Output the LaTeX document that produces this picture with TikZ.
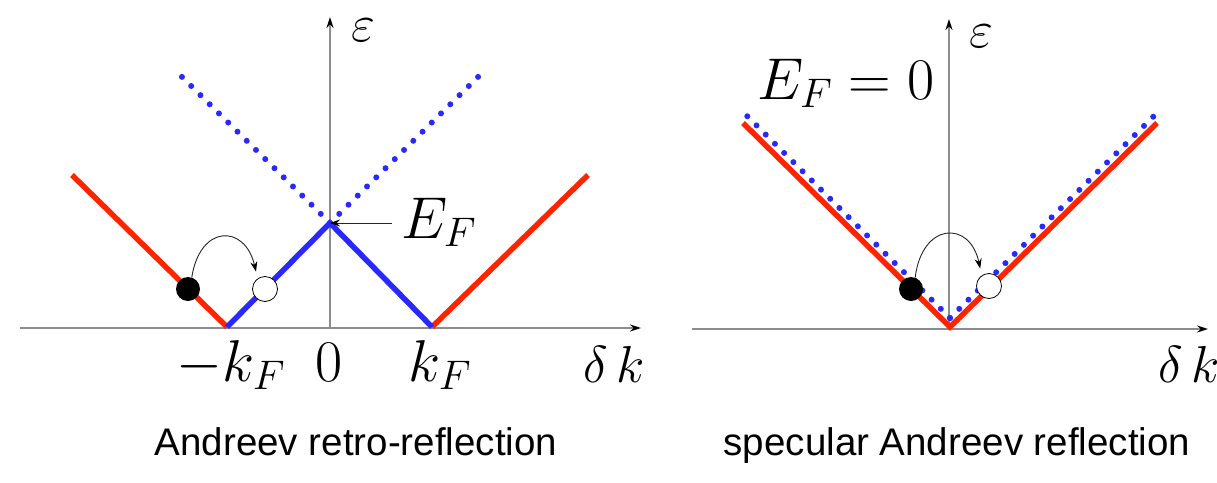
\RequirePackage{fix-cm}
\documentclass[tikz,border=0pt]{standalone}
\usepackage{fontspec}
\usetikzlibrary{arrows.meta}
\newfontfamily\capfont{Liberation Sans}
\definecolor{myred}{RGB}{255,36,0}
\definecolor{myblue}{RGB}{40,40,255}
\tikzset{
  axis/.style={draw=black!45, line width=1.6pt, -{Stealth[length=11pt,width=7pt,black]}},
  redline/.style={draw=myred, line width=5.5pt},
  blueline/.style={draw=myblue, line width=5.5pt},
  dotline/.style={draw=myblue, line width=6pt, line cap=round, dash pattern=on 0pt off 13pt},
  mathlbl/.style={inner sep=0pt, font=\fontsize{52}{60}\selectfont},
  biglbl/.style={inner sep=0pt, font=\fontsize{59}{66}\selectfont},
  caplbl/.style={inner sep=0pt, anchor=base, font=\capfont\fontsize{38.5}{44}\selectfont},
  fulldot/.style={circle, fill=black, minimum size=24pt, inner sep=0pt},
  hole/.style={circle, draw=black, line width=0.8pt, fill=white, minimum size=25pt, inner sep=0pt},
  hop/.style={draw=black!85, line width=0.9pt, -{Stealth[length=10pt,width=7pt,black]}},
}
\begin{document}
\begin{tikzpicture}[x=1pt,y=-1pt]
\useasboundingbox (0,0) rectangle (1217,482);
% ---------- left panel ----------
\coordinate (lxs) at (20,328);
\coordinate (lxe) at (641,328);
\coordinate (lys) at (330,328);
\coordinate (lye) at (330,17);
\coordinate (lA) at (72,175);
\coordinate (lB) at (227,327);
\coordinate (lC) at (330,223);
\coordinate (lD) at (432,327);
\coordinate (lE) at (588,175);
\coordinate (lP) at (176,71);
\coordinate (lQ) at (482,73);
\draw[axis] (lxs) -- (lxe);
\draw[axis] (lys) -- (lye);
\draw[dotline] (lC) -- (lP);
\draw[dotline] (lC) -- (lQ);
\draw[redline] (lA) -- (lB);
\draw[redline] (lD) -- (lE);
\draw[blueline, line join=miter] (lB) -- (lC) -- (lD);
\node[fulldot] (bl) at (188,289) {};
\node[hole] (wl) at (265,289) {};
\draw[hop, shorten >=7pt] (bl.72) .. controls (200,224) and (245,224) .. (wl.125);
\node[biglbl, anchor=base west] (efl) at (401,238) {$E_F$};
\coordinate (efs) at (392,223);
\draw[hop] (efs) -- (lC);
\node[mathlbl] (epl) at (363,30) {$\varepsilon$};
\node[biglbl, anchor=base] (mkf) at (231,381) {$-k_F$};
\node[biglbl, anchor=base] (zero) at (329,381) {$0$};
\node[biglbl, anchor=base] (kf) at (440,381) {$k_F$};
\node[mathlbl, anchor=base] (dkl) at (614,382) {$\delta\,k$};
\node[caplbl] (capl) at (356,455) {Andreev retro-reflection};
% ---------- right panel ----------
\coordinate (rxs) at (692,329);
\coordinate (rxe) at (1208,329);
\coordinate (rys) at (949,329);
\coordinate (rye) at (949,19);
\coordinate (rA) at (743,123);
\coordinate (rB) at (950,327);
\coordinate (rC) at (1157,123);
\coordinate (rP) at (744,113);
\coordinate (rQ) at (950,318);
\coordinate (rR) at (1157,113);
\draw[axis] (rxs) -- (rxe);
\draw[axis] (rys) -- (rye);
\draw[redline, line join=miter] (rA) -- (rB) -- (rC);
\draw[dotline] (rQ) -- (rP);
\draw[dotline] (rQ) -- (rR);
\node[fulldot] (br) at (911,289) {};
\node[hole] (wr) at (989,286) {};
\draw[hop, shorten >=7pt] (br.70) .. controls (922,222) and (970,220) .. (wr.125);
\node[mathlbl] (epr) at (981,36) {$\varepsilon$};
\node[biglbl, anchor=base] (ef0) at (846,99) {$E_F=0$};
\node[mathlbl, anchor=base] (dkr) at (1189,382) {$\delta\,k$};
\node[caplbl] (capr) at (957,455) {specular Andreev reflection};
\end{tikzpicture}
\end{document}
